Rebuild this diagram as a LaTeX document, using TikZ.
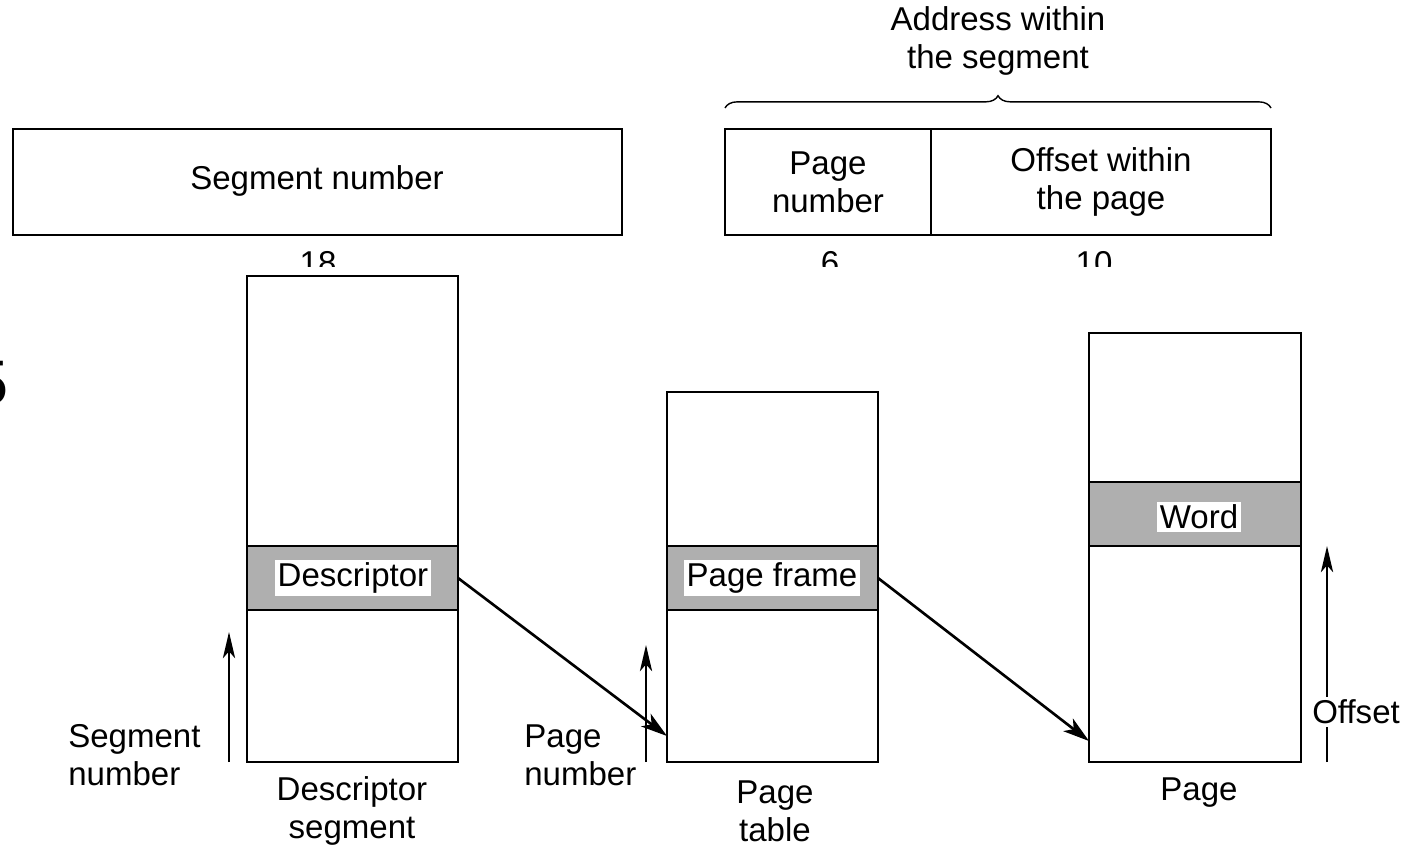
\documentclass[tikz,border=0pt]{standalone}
\usepackage{fontspec}
\setmainfont{Liberation Sans}
\usetikzlibrary{arrows.meta,decorations.pathreplacing}
\definecolor{bandgray}{RGB}{175,175,175}

\begin{document}
\begin{tikzpicture}[x=0.02cm, y=-0.02cm,
  font=\fontsize{18.8}{21.6}\selectfont,
  box/.style={line width=1.6pt},
  band/.style={line width=1.6pt, fill=bandgray},
  tag/.style={fill=white, inner sep=1.5pt},
  ptr/.style={line width=1.5pt, -{Stealth[length=15pt,width=9pt,inset=4pt]}},
  idx/.style={line width=1pt, -{Stealth[length=15pt,width=7pt,inset=4pt]}}]

\useasboundingbox (0,0) rectangle (1412,848);
\clip (0,0) rectangle (1412,848);

\coordinate (S1) at (13,129);
\coordinate (S2) at (622,235);
\coordinate (P1) at (725,129);
\coordinate (P2) at (931,235);
\coordinate (O1) at (931,129);
\coordinate (O2) at (1271,235);

\coordinate (DS1) at (247,276);
\coordinate (DS2) at (458,762);
\coordinate (PT1) at (667,392);
\coordinate (PT2) at (878,762);
\coordinate (PG1) at (1089,333);
\coordinate (PG2) at (1301,762);

\coordinate (dout) at (458,578);
\coordinate (pin) at (667,736);
\coordinate (fout) at (878,578);
\coordinate (win) at (1089,741);

\coordinate (sbot) at (229,762);
\coordinate (stop) at (229,632);
\coordinate (pbot) at (646,762);
\coordinate (ptop) at (646,645);
\coordinate (obot) at (1327,762);
\coordinate (otop) at (1327,546);

% field widths, cut off at the bottom
\node [anchor=base] (w18) at (318,274) {18};
\node [anchor=base] (w6) at (830,274) {6};
\node [anchor=base] (w10) at (1094,274) {10};
\fill [white] (0,267) rectangle (1412,275);
\node [anchor=base west, inner sep=0pt, font=\fontsize{35.8}{40}\selectfont] (fig) at (-27,404) {5};

% virtual address
\draw [box] (S1) rectangle (S2);
\draw [box] (P1) rectangle (O2);
\draw [box] (O1) -- (P2);
\node (segno) at (317,181) {Segment number};
\node [align=center] (pageno) at (828,182) {Page\\number};
\node [align=center] (offs) at (1101,182) {Offset within\\the page};
\draw [line width=0.8pt, decorate, decoration={brace, amplitude=7pt}] (725,108) -- (1271,108);
\node [align=center] (addr) at (998,41) {Address within\\the segment};

% tables
\draw [box] (DS1) rectangle (DS2);
\draw [band] (247,546) rectangle (458,610);
\draw [box] (PT1) rectangle (PT2);
\draw [band] (667,546) rectangle (878,610);
\draw [box] (PG1) rectangle (PG2);
\draw [band] (1089,482) rectangle (1301,546);

\node [tag] (desc) at (353,578) {Descriptor};
\node [tag] (frame) at (772,578) {Page frame};
\node [tag] (word) at (1199,517) {Word};

\draw [ptr] (dout) -- (pin);
\draw [ptr] (fout) -- (win);

\draw [idx] (sbot) -- (stop);
\draw [idx] (pbot) -- (ptop);
\draw [idx] (obot) -- (otop);
\node [tag] (offlbl) at (1356,712) {Offset};

\node [align=left, anchor=west, inner sep=0pt] (seglbl) at (68,755) {Segment\\number};
\node [align=left, anchor=west, inner sep=0pt] (pglbl) at (524,755) {Page\\number};
\node [align=center] (dslbl) at (352,811) {Descriptor\\segment};
\node [align=center] (ptlbl) at (775,811) {Page\\table};
\node (pglbl2) at (1199,793) {Page};
\end{tikzpicture}
\end{document}
